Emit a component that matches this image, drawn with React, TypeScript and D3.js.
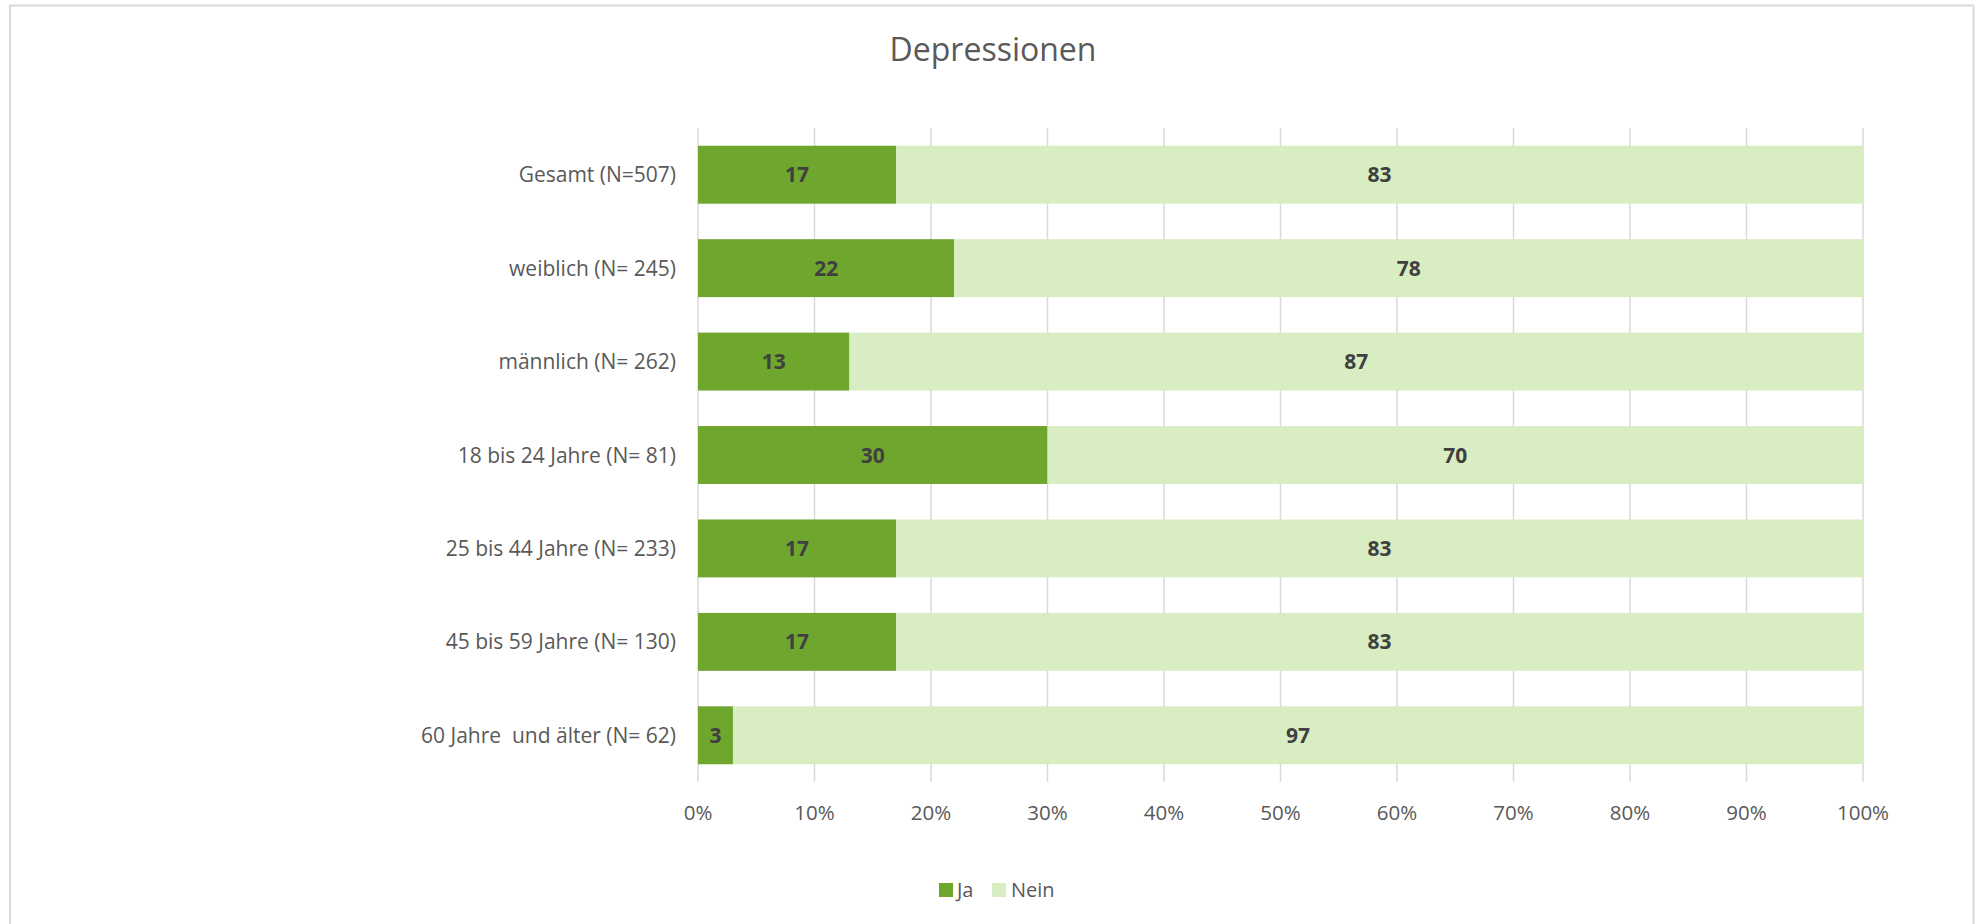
import React from "react";
import * as d3 from "d3";

const categories = [
  "Gesamt (N=507)",
  "weiblich (N= 245)",
  "männlich (N= 262)",
  "18 bis 24 Jahre (N= 81)",
  "25 bis 44 Jahre (N= 233)",
  "45 bis 59 Jahre (N= 130)",
  "60 Jahre  und älter (N= 62)",
];
const jaValues = [17, 22, 13, 30, 17, 17, 3];
const neinValues = [83, 78, 87, 70, 83, 83, 97];
const xTicks = [0, 10, 20, 30, 40, 50, 60, 70, 80, 90, 100];
const seriesNames = ["Ja", "Nein"];
const seriesColors = ["#6EA62E", "#D9EDC3"];

const W = 1975;
const H = 924;
const FONT = "'Open Sans', 'Noto Sans', sans-serif";

export default function App() {
  const x = d3.scaleLinear().domain([0, 100]).range([698, 1863]);
  const y = d3
    .scaleBand<string>()
    .domain(categories)
    .range([128, 782])
    .paddingInner(0.38)
    .paddingOuter(0.19);
  const bw = y.bandwidth();
  const gridTop = 128;
  const gridBottom = 782;

  const stacks = categories.map((c, i) => {
    const ja = jaValues[i];
    const nein = neinValues[i];
    return [
      { key: "Ja", x0: 0, x1: ja, v: ja, color: seriesColors[0] },
      { key: "Nein", x0: ja, x1: ja + nein, v: nein, color: seriesColors[1] },
    ];
  });

  return (
    <svg
      width={W}
      height={H}
      style={{ position: "absolute", left: 0, top: 0, background: "#fff" }}
      fontFamily={FONT}
    >
      <rect x={0} y={0} width={W} height={H} fill="#fff" />
      <rect
        x={10}
        y={5.5}
        width={1963.5}
        height={1000}
        fill="none"
        stroke="#D9D9D9"
        strokeWidth={2}
      />
      <text
        x={993}
        y={61}
        textAnchor="middle"
        fontSize={32}
        fill="#595959"
      >
        Depressionen
      </text>

      {xTicks.map((t) => (
        <line
          key={"g" + t}
          x1={x(t)}
          x2={x(t)}
          y1={gridTop}
          y2={gridBottom}
          stroke="#D9D9D9"
          strokeWidth={1.5}
        />
      ))}

      {categories.map((c, i) => (
        <g key={c}>
          {stacks[i].map((s) => (
            <rect
              key={s.key}
              x={x(s.x0)}
              y={y(c)!}
              width={x(s.x1) - x(s.x0)}
              height={bw}
              fill={s.color}
            />
          ))}
          {stacks[i].map((s) => (
            <text
              key={"l" + s.key}
              x={(x(s.x0) + x(s.x1)) / 2}
              y={y(c)! + bw / 2 + 7.5}
              textAnchor="middle"
              fontSize={21}
              fontWeight="bold"
              fill="#404040"
            >
              {s.v}
            </text>
          ))}
          <text
            x={676}
            y={y(c)! + bw / 2 + 7.5}
            textAnchor="end"
            fontSize={21}
            fill="#595959"
            style={{ whiteSpace: "pre" }}
          >
            {c}
          </text>
        </g>
      ))}

      {xTicks.map((t) => (
        <text
          key={"t" + t}
          x={x(t)}
          y={819.5}
          textAnchor="middle"
          fontSize={20.5}
          fill="#595959"
        >
          {t + "%"}
        </text>
      ))}

      <g>
        <rect x={939} y={883} width={14} height={14} fill={seriesColors[0]} />
        <text x={957} y={897} fontSize={20} fill="#595959">
          {seriesNames[0]}
        </text>
        <rect x={992} y={883} width={14} height={14} fill={seriesColors[1]} />
        <text x={1011} y={897} fontSize={20} fill="#595959">
          {seriesNames[1]}
        </text>
      </g>
    </svg>
  );
}
